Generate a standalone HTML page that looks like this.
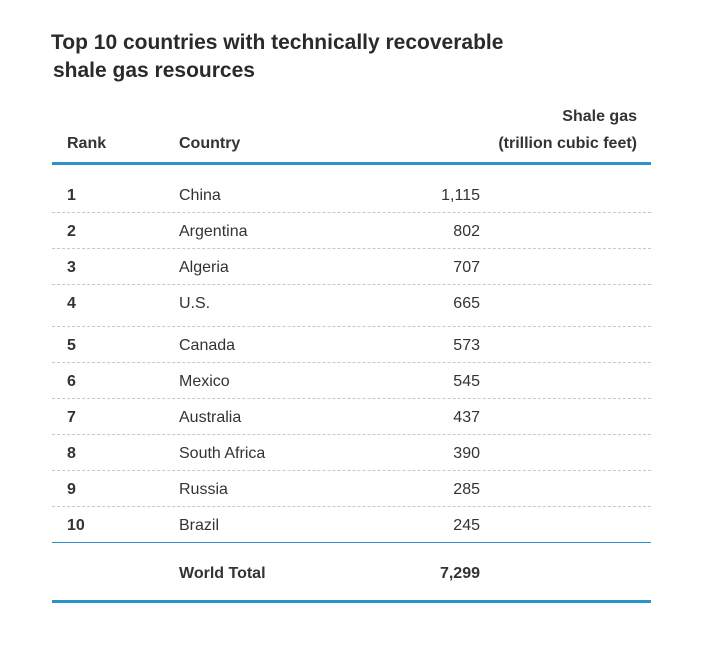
<!DOCTYPE html>
<html><head><meta charset="utf-8"><style>
body{margin:0;width:723px;height:669px;background:#fff;font-family:"Liberation Sans",Arial,sans-serif;color:#333;position:relative;overflow:hidden}
.a{position:absolute;white-space:nowrap}
.t{font-size:21px;font-weight:bold;color:#2a2a2a;left:51px}
.h{font-size:16px;font-weight:bold}
.c{font-size:16px;line-height:20px}
.line{position:absolute;left:52px;width:599px;background:#2a93c9}
.dash{position:absolute;left:52px;width:599px;border-top:1px dashed #c8c8c8;height:0}
</style></head><body>
<div class="a t" style="top:31px">Top 10 countries with technically recoverable</div>
<div class="a t" style="top:59px;left:53px">shale gas resources</div>
<div class="a h" style="top:135px;left:67px">Rank</div>
<div class="a h" style="top:135px;left:179px">Country</div>
<div class="a h" style="top:108px;right:86px">Shale gas</div>
<div class="a h" style="top:135px;right:86px">(trillion cubic feet)</div>
<div class="line" style="top:162px;height:3px"></div>
<div id="rows"></div>
<div class="line" style="top:542px;height:1px;background:#2a93c9"></div>
<div class="a c h" style="top:564px;left:179px">World Total</div>
<div class="a c h" style="top:564px;right:243px">7,299</div>
<div class="line" style="top:600px;height:3px"></div>
<script>
const ranks=["1","2","3","4","5","6","7","8","9","10"];
const countries=["China","Argentina","Algeria","U.S.","Canada","Mexico","Australia","South Africa","Russia","Brazil"];
const values=["1,115","802","707","665","573","545","437","390","285","245"];
const rowCenters=[194,230,266,302,344,380,416,452,488,524];
const sepY=[212,248,284,326,362,398,434,470,506];
const root=document.getElementById('rows');
ranks.forEach((r,i)=>{
  const y=rowCenters[i]-8;
  const a=document.createElement('div');a.className='a c';a.style.cssText='font-weight:bold;left:67px;top:'+y+'px';a.textContent=r;
  
  
  root.appendChild(a);
  const b=document.createElement('div');b.className='a c';b.style.cssText='left:179px;top:'+y+'px';b.textContent=countries[i];
  
  
  root.appendChild(b);
  const c=document.createElement('div');c.className='a c';c.style.cssText='right:243px;top:'+y+'px';c.textContent=values[i];
  
  
  root.appendChild(c);
});
sepY.forEach(y=>{
  const d=document.createElement('div');d.className='dash';d.style.top=y+'px';
  
  
  root.appendChild(d);
});
</script>
</body></html>
